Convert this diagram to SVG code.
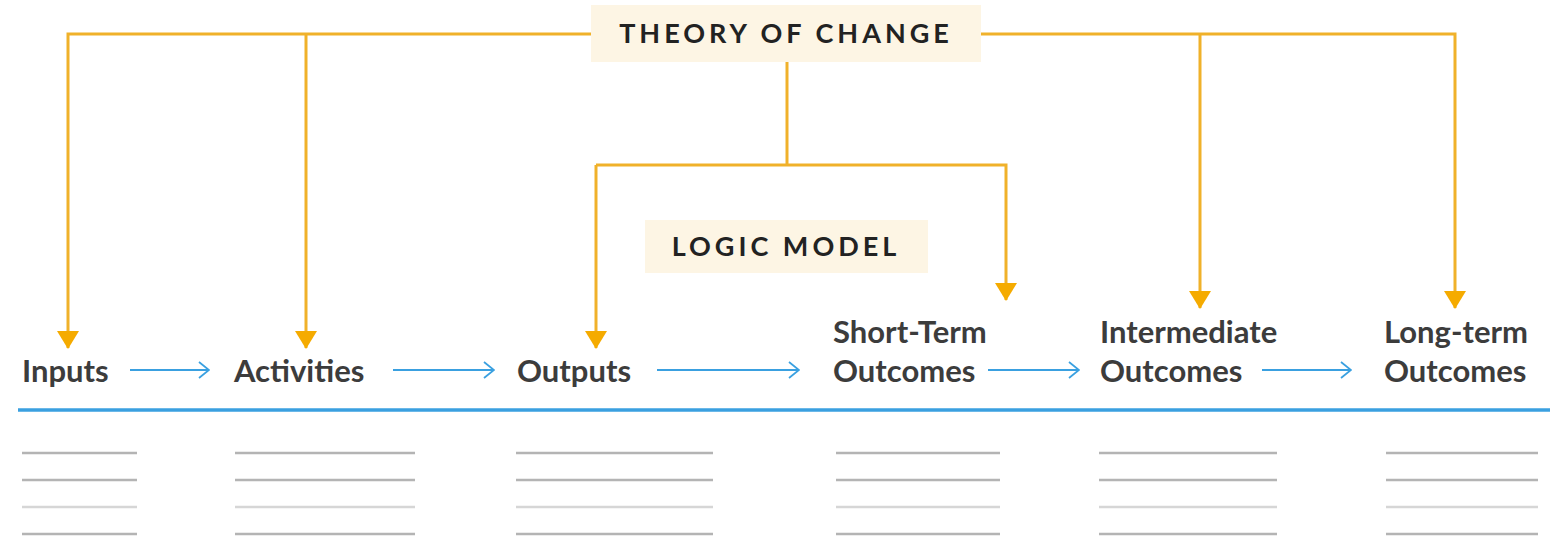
<svg xmlns="http://www.w3.org/2000/svg" width="1550" height="537" viewBox="0 0 1550 537">
<defs>
<marker id="oa" viewBox="0 0 18 22" refX="17" refY="11" markerWidth="18" markerHeight="22" markerUnits="userSpaceOnUse" orient="auto">
<path d="M0,0 L18,11 L0,22 Z" fill="#f5ab00"/>
</marker>
<marker id="ba" viewBox="0 0 12 18" refX="11" refY="9" markerWidth="12" markerHeight="18" markerUnits="userSpaceOnUse" orient="auto">
<path d="M1,1 L11,9 L1,17" fill="none" stroke="#3aa0e0" stroke-width="1.8"/>
</marker>
<style>
.box{fill:#fdf5e4}
.hdr{font-family:Lato,"Liberation Sans",sans-serif;font-weight:bold;font-size:27px;letter-spacing:4px;fill:#222;text-anchor:middle}
.lbl{font-family:Lato,"Liberation Sans",sans-serif;font-weight:bold;font-size:31px;fill:#3c3c3c}
.o{fill:none;stroke:#f0b12a;stroke-width:3}
.b{fill:none;stroke:#3aa0e0;stroke-width:1.8}
.g{stroke:#b4b4b4;stroke-width:2.5}
.g2{stroke:#d6d6d6;stroke-width:2.5}
</style>
</defs>
<g id="connectors">
<path class="o" d="M591,34 H68 V348" marker-end="url(#oa)"/>
<path class="o" d="M306,34 V348" marker-end="url(#oa)"/>
<path class="o" d="M981,34 H1455 V308" marker-end="url(#oa)"/>
<path class="o" d="M1200,34 V308" marker-end="url(#oa)"/>
<path class="o" d="M787,62 V165" />
<path class="o" d="M596,165 H1006 V300" marker-end="url(#oa)"/>
<path class="o" d="M596,165 V348" marker-end="url(#oa)"/>
<path class="b" d="M130,370 H209" marker-end="url(#ba)"/>
<path class="b" d="M393,370 H494" marker-end="url(#ba)"/>
<path class="b" d="M657,370 H799" marker-end="url(#ba)"/>
<path class="b" d="M988,370 H1079" marker-end="url(#ba)"/>
<path class="b" d="M1262,370 H1351" marker-end="url(#ba)"/>
</g>
<g id="theory-of-change">
<rect class="box" x="591" y="5" width="390" height="57"/>
<text class="hdr" x="786" y="43">THEORY OF CHANGE</text>
</g>
<g id="logic-model">
<rect class="box" x="645" y="220" width="283" height="53"/>
<text class="hdr" x="786" y="256">LOGIC MODEL</text>
</g>
<g id="inputs"><text class="lbl" x="22" y="382">Inputs</text></g>
<g id="activities"><text class="lbl" x="234" y="382">Activities</text></g>
<g id="outputs"><text class="lbl" x="517" y="382">Outputs</text></g>
<g id="short-term"><text class="lbl" x="833" y="343">Short-Term</text><text class="lbl" x="833" y="382">Outcomes</text></g>
<g id="intermediate"><text class="lbl" x="1100" y="343">Intermediate</text><text class="lbl" x="1100" y="382">Outcomes</text></g>
<g id="long-term"><text class="lbl" x="1384" y="343">Long-term</text><text class="lbl" x="1384" y="382">Outcomes</text></g>
<g id="baseline"><line x1="18" y1="410" x2="1550" y2="410" stroke="#3aa0e0" stroke-width="3.5"/></g>
<g id="blank-lines">
<path class="g" d="M22,453 H137 M22,480 H137 M22,534 H137 M235,453 H415 M235,480 H415 M235,534 H415 M516,453 H713 M516,480 H713 M516,534 H713 M836,453 H1000 M836,480 H1000 M836,534 H1000 M1099,453 H1277 M1099,480 H1277 M1099,534 H1277 M1386,453 H1538 M1386,480 H1538 M1386,534 H1538"/>
<path class="g2" d="M22,507 H137 M235,507 H415 M516,507 H713 M836,507 H1000 M1099,507 H1277 M1386,507 H1538"/>
</g>
</svg>
